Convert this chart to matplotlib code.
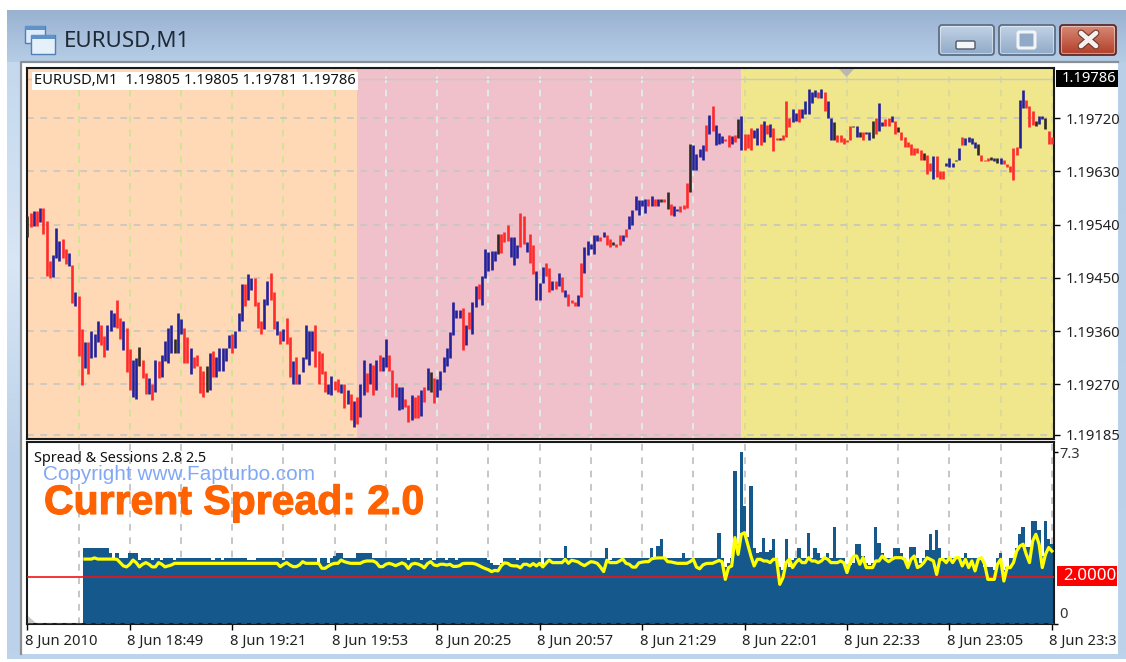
import matplotlib
matplotlib.use("Agg")
import matplotlib.pyplot as plt
import matplotlib.patheffects as pe
import numpy as np
from matplotlib.colors import to_rgb
from matplotlib.patches import FancyBboxPatch, Polygon, Rectangle
from matplotlib.transforms import ScaledTranslation

W, H = 1126, 662

# prices in points above 1.19000, one entry per M1 bar
bar_high = [
    554, 560, 563, 563, 568, 568, 546, 478, 489, 535, 513, 516, 499, 492, 471, 426, 420, 363, 341, 341,
    360, 355, 377, 371, 351, 371, 396, 390, 412, 382, 377, 366, 330, 311, 314, 333, 311, 289, 281, 271,
    311, 309, 320, 344, 366, 371, 347, 390, 380, 366, 350, 331, 317, 320, 301, 292, 301, 323, 326, 317,
    331, 331, 331, 353, 355, 361, 390, 440, 440, 456, 450, 450, 410, 377, 415, 445, 459, 426, 377, 361,
    363, 382, 350, 309, 317, 287, 317, 371, 361, 361, 371, 326, 323, 292, 271, 284, 276, 279, 271, 271,
    260, 254, 241, 249, 271, 311, 289, 306, 303, 311, 320,
    317, 347, 320, 295, 273, 265, 265, 246, 235, 252, 249, 252, 260, 265, 298, 290, 281, 279, 292, 317,
    331, 358, 410, 396, 396, 399, 371, 393, 410, 437, 440, 453, 499, 494, 496, 496, 525, 525, 527, 540,
    519, 519, 505, 560, 554, 510, 524, 505, 461, 442, 469, 475, 467, 445, 445, 459, 451, 429, 423, 412,
    410, 421, 475, 502, 513, 508, 522, 522, 520, 527, 522, 516, 510, 508, 522, 522, 532, 554, 565,
    589, 582, 581, 584, 584, 589, 584, 584, 584, 584, 595, 575, 571, 567, 571, 574, 611, 677, 674, 660,
    668, 674, 709, 726, 740, 709, 695, 690, 685,
    692, 690, 692, 719, 724, 694, 694, 703, 700, 703, 710, 716, 708, 710, 703, 686, 686, 692, 749, 721,
    735, 729, 735, 735, 749, 770, 765, 768, 765, 770, 765, 749, 721, 713, 692, 692, 686, 683, 707, 707,
    707, 697, 697, 697, 697, 716, 721, 745, 713, 718, 721, 724, 716, 705, 697, 689, 680, 677, 669, 669,
    666, 661, 658, 645, 656, 656, 631, 631, 645, 653, 645, 650, 669, 689, 686, 689, 686, 680, 677, 658,
    650, 653, 655, 653, 653, 653, 650, 642, 640, 669, 672, 751, 768, 751, 740, 732, 716, 724, 724, 721,
    699, 689,
]
bar_low = [
    519, 536, 538, 538, 544, 525, 453, 450, 452, 484, 478, 484, 473, 470, 408, 402, 318, 268, 298, 287,
    315, 317, 342, 336, 317, 328, 361, 367, 366, 347, 328, 291, 260, 249, 246, 301, 281, 253, 254, 244,
    257, 281, 282, 309, 306, 323, 323, 323, 355, 306, 306, 288, 298, 301, 255, 249, 257, 260, 282, 282,
    293, 292, 309, 331, 323, 331, 361, 377, 402, 413, 429, 402, 366, 355, 364, 404, 412, 364, 353, 338,
    344, 338, 282, 271, 271, 271, 290, 312, 303, 326, 299, 271, 288, 257, 254, 252, 260, 257, 255, 230,
    236, 209, 197, 203, 214, 252, 257, 271, 252, 260, 293,
    293, 299, 292, 249, 249, 227, 228, 231, 206, 210, 213, 213, 216, 240, 260, 257, 238, 249, 260, 290,
    301, 314, 353, 382, 382, 328, 336, 363, 355, 401, 415, 404, 450, 462, 464, 478, 491, 492, 510, 513,
    486, 472, 483, 502, 508, 494, 475, 456, 412, 412, 442, 453, 426, 429, 432, 437, 426, 418, 402, 407,
    402, 402, 418, 459, 489, 499, 491, 513, 513, 519, 505, 503, 505, 503, 505, 513, 519, 532, 540,
    564, 557, 571, 559, 572, 571, 571, 572, 579, 579, 567, 557, 555, 563, 561, 567, 568, 595, 633, 633,
    655, 650, 665, 694, 699, 674, 677, 678, 682,
    672, 677, 680, 686, 667, 667, 669, 667, 686, 675, 675, 680, 694, 689, 664, 683, 683, 683, 689, 705,
    713, 716, 713, 721, 727, 727, 745, 756, 754, 754, 732, 721, 683, 683, 680, 680, 677, 680, 683, 705,
    689, 689, 683, 694, 683, 686, 694, 699, 707, 707, 707, 713, 694, 697, 683, 672, 672, 658, 658, 661,
    650, 650, 626, 631, 618, 621, 618, 618, 640, 637, 637, 648, 650, 675, 675, 680, 677, 669, 658, 648,
    648, 648, 650, 648, 645, 642, 642, 637, 629, 615, 658, 669, 737, 737, 705, 708, 707, 710, 718, 702,
    677, 677,
]
# b = up bar, r = down bar, k = doji
bar_kind = (
    "krbrbrrrbbbrrbrbrrbrbbbrrbbbrrbrrbbkrrbrbrbbbbkbbrrbrrrrkbrbbbbbrbbbrbbrrrbbrrbrbrrbrbbbbbrrrrbbrrbrbrbrbbrbrbr"
    "bbrrrbbrrbrrbrbkrbbbbbbbbrbrbbrbbbbbkrrrbbbrrbrrbbbrrbrbrbrrrbrbbbbbrbrrkrrbrbbbbbb"
    "rbrbkrkrbbrrrkbbbbrbrbbbrrbrkbrrrbbrbrbrrbrrrbbrbbbbbrbrbbkrrrrrkbkrbbkrbbrrbrkrr"
    "rrrrrkrrbrrrbbbkbrbbbbkrrrkbkbrrrrrbbrrrkbbkrrrrrrbbbrrrbbkrrb"
)

session_start = [-0.1, 103, 223]
session_color = ["#FFD8B5", "#F0C1CA", "#F0E68C"]
session_grid = ["#C9E692", "#DDF3F0", "#D9D7A4"]
price_ticks = [720, 630, 540, 450, 360, 270, 185]
last_price = 786

spread_hist = [
    3.2, 3.2,
    3.2, 3.2, 3.2, 3.2, 3.2, 3.2, 3.0, 2.8, 3.0, 2.8,
    2.8, 2.8, 3.0, 3.0, 3.0, 2.7, 2.8, 2.8, 2.8, 2.7,
    2.8, 2.8, 2.7, 2.8, 2.8, 2.8, 2.7, 2.8, 2.8, 2.8,
    2.8, 2.8, 2.8, 2.8, 2.8, 2.8, 2.8, 2.8, 2.7, 2.8,
    2.8, 2.7, 2.8, 2.8, 2.8, 2.8, 2.8, 2.8, 2.8, 2.7,
    2.7, 2.7, 2.8, 2.8, 2.8, 2.8, 2.8, 2.8, 2.8, 2.8,
    2.7, 2.8, 2.8, 2.8, 2.8, 2.8, 2.8, 2.8, 2.8, 2.8,
    2.8, 2.5, 2.8, 2.8, 2.6, 2.8, 2.9, 3.0, 3.0, 2.8,
    2.8, 2.8, 2.8, 3.0, 3.0, 3.0, 3.0, 3.0, 2.8, 2.8,
    2.8, 2.8, 2.8, 2.8, 2.8, 2.8, 2.8, 2.8, 2.8, 2.7,
    2.8, 2.8, 2.8, 2.7, 2.8, 2.8, 2.8, 2.7, 2.8, 2.8,
    2.8, 2.7, 2.8, 2.8, 2.7, 2.8, 2.8, 2.8, 2.8, 2.8,
    2.8, 2.8, 2.8, 2.8, 2.7, 2.6, 2.5, 2.5, 2.6, 2.8,
    2.8, 2.8, 2.8, 2.7, 2.8, 2.8, 2.8, 2.8, 2.8, 2.8,
    2.8, 2.4, 2.8, 2.8, 2.8, 2.8, 2.8, 2.8, 3.3, 2.8,
    2.8, 2.8, 2.8, 2.8, 2.8, 2.8, 2.8, 2.8, 2.8, 2.8,
    2.8, 3.2, 2.7, 2.8, 2.8, 2.8, 2.7, 2.8, 2.8, 2.8,
    2.8, 2.8, 2.8, 2.8, 2.8, 3.2, 2.8, 3.3, 3.6, 2.8,
    2.8, 2.8, 2.8, 2.8, 2.8, 3.0, 2.8, 2.8, 2.8, 2.8,
    2.8, 2.8, 2.8, 2.8, 2.8, 2.8, 3.87, 2.8, 2.4, 2.6,
    2.8, 6.5, 3.4, 7.3, 5.0, 3.7, 5.85, 3.2, 3.0, 3.05,
    3.66, 3.05, 3.15, 3.6, 2.8, 2.4, 2.3, 3.6, 2.4, 2.7,
    2.8, 3.2, 2.8, 2.8, 3.87, 2.8, 3.2, 3.0, 2.8, 2.8,
    3.0, 2.8, 4.1, 2.8, 2.8, 2.8, 2.3, 2.5, 2.6, 3.4,
    3.4, 2.9, 2.6, 2.5, 2.6, 4.1, 3.45, 3.0, 2.8, 2.8,
    2.8, 3.2, 3.2, 3.0, 2.8, 2.5, 3.25, 3.25, 2.8, 2.6,
    2.8, 3.15, 3.8, 3.15, 4.0, 3.2, 2.8, 2.8, 2.8, 2.8,
    2.8, 2.8, 2.8, 3.0, 2.8, 2.8, 2.8, 2.8, 2.8, 2.4,
    2.4, 2.4, 2.3, 2.8, 3.0, 2.3, 2.4, 2.8, 2.8, 3.2,
    3.8, 4.1, 3.25, 3.25, 4.35, 4.35, 4.0, 2.9, 4.35, 3.6, 3.4,
]
spread_avg = [
    2.75, 2.75,
    2.75, 2.8, 2.75, 2.75, 2.75, 2.75, 2.75, 2.75, 2.74, 2.6,
    2.46, 2.42, 2.53, 2.71, 2.6, 2.42, 2.53, 2.6, 2.53, 2.42,
    2.42, 2.6, 2.53, 2.42, 2.46, 2.5, 2.57, 2.57, 2.57, 2.57,
    2.57, 2.57, 2.57, 2.57, 2.57, 2.57, 2.57, 2.57, 2.57, 2.57,
    2.57, 2.57, 2.57, 2.57, 2.57, 2.57, 2.57, 2.57, 2.57, 2.57,
    2.57, 2.57, 2.57, 2.57, 2.57, 2.57, 2.57, 2.57, 2.57, 2.43,
    2.53, 2.6, 2.5, 2.43, 2.43, 2.5, 2.64, 2.57, 2.57, 2.57,
    2.57, 2.57, 2.36, 2.36, 2.45, 2.53, 2.57, 2.57, 2.71, 2.64,
    2.6, 2.57, 2.57, 2.57, 2.57, 2.64, 2.67, 2.67, 2.67, 2.6,
    2.43, 2.43, 2.53, 2.57, 2.53, 2.47, 2.53, 2.59, 2.53, 2.35,
    2.53, 2.57, 2.54, 2.48, 2.38, 2.56, 2.64, 2.5, 2.47, 2.53,
    2.53, 2.5, 2.53, 2.44, 2.44, 2.47, 2.56, 2.57, 2.57, 2.57,
    2.54, 2.48, 2.41, 2.35, 2.3, 2.22, 2.27, 2.25, 2.47, 2.59,
    2.57, 2.48, 2.46, 2.46, 2.38, 2.53, 2.53, 2.46, 2.56, 2.46,
    2.57, 2.42, 2.57, 2.71, 2.6, 2.6, 2.6, 2.6, 2.74, 2.57,
    2.7, 2.67, 2.63, 2.54, 2.47, 2.56, 2.64, 2.62, 2.57, 2.41,
    2.22, 2.7, 2.6, 2.6, 2.6, 2.67, 2.75, 2.57, 2.53, 2.41,
    2.41, 2.59, 2.62, 2.64, 2.64, 2.76, 2.79, 2.8, 2.8, 2.8,
    2.64, 2.63, 2.6, 2.57, 2.57, 2.57, 2.57, 2.64, 2.74, 2.41,
    2.34, 2.5, 2.56, 2.57, 2.57, 2.63, 2.69, 2.64, 1.89, 2.39,
    2.46, 3.66, 2.95, 3.8, 3.87, 3.38, 2.88, 2.46, 2.74, 2.74,
    2.67, 2.67, 2.6, 2.74, 2.74, 1.68, 1.96, 2.6, 2.74, 2.39,
    2.6, 2.74, 2.6, 2.6, 2.81, 2.67, 2.67, 2.6, 2.67, 2.81,
    2.74, 2.6, 2.6, 2.6, 2.67, 2.6, 2.18, 2.6, 2.88, 2.88,
    2.53, 2.81, 2.39, 2.39, 2.39, 2.67, 2.67, 2.88, 2.74, 2.64,
    2.74, 2.81, 2.81, 2.81, 2.74, 2.39, 2.74, 2.88, 2.39, 2.46,
    2.6, 2.81, 2.74, 2.67, 2.1, 2.74, 2.74, 2.6, 2.81, 2.6,
    2.81, 2.81, 2.46, 2.74, 2.39, 2.67, 2.25, 2.74, 2.81, 2.53,
    1.89, 1.89, 1.89, 2.53, 2.74, 1.82, 2.39, 2.39, 2.6, 3.09,
    3.3, 3.38, 2.95, 2.6, 3.52, 3.8, 3.38, 2.39, 2.95, 3.24, 3.09,
]
spread_level = 2.0
time_labels = ["8 Jun 2010", "8 Jun 18:49", "8 Jun 19:21", "8 Jun 19:53", "8 Jun 20:25", "8 Jun 20:57",
               "8 Jun 21:29", "8 Jun 22:01", "8 Jun 22:33", "8 Jun 23:05", "8 Jun 23:3"]

KIND_COLOR = {"b": "#22229A", "r": "#FF2A2A", "k": "#2E2A24"}
UI_FONT = "Noto Sans"
UI_SIZE = 10.6


def px_axes(fig, left, top, right, bottom):
    return fig.add_axes([left / W, 1 - bottom / H, (right - left) / W, (bottom - top) / H])


def vgrad(ax, extent, stops):
    # vertical gradient between colour stops
    rows = np.linspace(0, 1, 64)
    stops_rgb = np.array([to_rgb(c) for c in stops])
    pos = np.linspace(0, 1, len(stops))
    img = np.stack([np.interp(rows, pos, stops_rgb[:, k]) for k in range(3)], axis=1)[:, None, :]
    ax.imshow(img, extent=extent, aspect="auto", interpolation="bilinear", zorder=1)


def button(ax, x0, x1, top_col, bottom_col, edge):
    vgrad(ax, [x0, x1, 55, 25], [top_col, bottom_col])
    ax.add_patch(FancyBboxPatch((x0, 25), x1 - x0, 30, boxstyle="round,pad=0,rounding_size=3",
                                fc="none", ec=edge, lw=1.3, zorder=3))
    ax.add_patch(FancyBboxPatch((x0 + 1.5, 26.5), x1 - x0 - 3, 27, boxstyle="round,pad=0,rounding_size=2",
                                fc="none", ec="#FFFFFF", alpha=0.45, lw=0.8, zorder=3))


fig = plt.figure(figsize=(W / 100, H / 100), dpi=100, facecolor="white")

# window frame behind the chart
bg = fig.add_axes([0, 0, 1, 1], zorder=0)
vgrad(bg, [7, W, 62, 10], ["#98B2D0", "#A8C0DC", "#B6CDE6"])
vgrad(bg, [7, 22, 662, 62], ["#C4D8EE", "#D8E6F5", "#BBD1E9", "#BDD3EB"])
vgrad(bg, [1118, W, 662, 62], ["#B9CFE8", "#BDD3EB"])
bg.add_patch(Rectangle((7, 654), W - 7, 5, fc="#BDD3EB", ec="none", zorder=2))
bg.add_patch(Rectangle((0, 659), W, 3, fc="white", ec="none", zorder=2))
bg.add_patch(Rectangle((21, 62), 1097, 592, fc="white", ec="none", zorder=2))
bg.plot([21, 21, 1118], [654, 61.5, 61.5], color="#8A8F96", lw=1.6, zorder=3)
button(bg, 939, 994, "#C2D3E6", "#8FA9C7", "#5C6F86")
button(bg, 999, 1055, "#C2D3E6", "#8FA9C7", "#5C6F86")
button(bg, 1060, 1116, "#D98A78", "#B03D26", "#5E2A2A")
bg.add_patch(FancyBboxPatch((956, 41), 19, 8, boxstyle="round,pad=0,rounding_size=1.5",
                            fc="#F4F6F8", ec="#4E5A68", lw=1, zorder=4))
bg.add_patch(FancyBboxPatch((1018, 32), 17, 16, boxstyle="round,pad=0,rounding_size=1.5",
                            fc="#8FA9C7", ec="#F2F4F6", lw=2.2, zorder=4))
for xs, ys in [((1081, 1096), (33, 46)), ((1081, 1096), (46, 33))]:
    bg.plot(xs, ys, color="#6B3A34", lw=5, solid_capstyle="round", zorder=4)
    bg.plot(xs, ys, color="#F6F1EE", lw=3.4, solid_capstyle="round", zorder=5)
# window icon
bg.add_patch(Rectangle((25, 26), 20, 17, fc="#DDEBFA", ec="#4F7FB4", lw=1, zorder=4))
bg.add_patch(Rectangle((25, 26), 20, 4, fc="#5E92C8", ec="none", zorder=4))
bg.add_patch(Rectangle((31, 35), 24, 19, fc="#E6F0FB", ec="#4F7FB4", lw=1, zorder=5))
bg.add_patch(Rectangle((31, 35), 24, 4, fc="#5E92C8", ec="none", zorder=5))
bg.text(64, 42, "EURUSD,M1", fontsize=16.1, family=UI_FONT, color="#1F2A38", va="center", ha="left", zorder=6)
bg.set_xlim(0, W)
bg.set_ylim(H, 0)
bg.axis("off")

# price panel
ax = px_axes(fig, 27, 68, 1053.5, 439)
ax.set_zorder(1)
x = np.arange(len(bar_high))
edges = session_start + [320.5]
x_ticks_grid = np.arange(16, 321, 16)
for k in range(3):
    ax.axvspan(edges[k], edges[k + 1], color=session_color[k], lw=0, zorder=0)
    in_session = x_ticks_grid[(x_ticks_grid >= edges[k]) & (x_ticks_grid < edges[k + 1])]
    ax.vlines(in_session, 170, 810, colors=session_grid[k], lw=1.2, linestyles=(0, (4, 4)), zorder=1)
ax.hlines(price_ticks, -0.1, 320.5, colors="#C6C6C2", lw=1.2, linestyles=(0, (4, 4)), zorder=1)
ax.axhline(last_price, color="#C8C8C8", lw=1, zorder=1)
ax.vlines(x, bar_low, bar_high, colors=[KIND_COLOR[c] for c in bar_kind], lw=1.9, zorder=3)
ax.set_xlim(-0.1, 320.5)
ax.set_ylim(177.5, 805)
ax.yaxis.tick_right()
ax.set_yticks(price_ticks)
ax.set_yticklabels([f"1.19{p:03d}" for p in price_ticks])
ax.tick_params(axis="y", length=4, width=1, pad=5, labelsize=UI_SIZE, labelfontfamily=UI_FONT, labelcolor="#222222")
ax.set_xticks([])
for s in ax.spines.values():
    s.set_linewidth(1.5)
    s.set_color("#1A1A1A")

# spread panel
ax2 = px_axes(fig, 27, 442, 1053.5, 624)
ax2.set_zorder(1)
ax2.set_facecolor("white")
ax2.vlines(x_ticks_grid, 0, 8, colors="#BDBDBD", lw=1.2, linestyles=(0, (4, 4)), zorder=1)
ax2.bar(np.arange(18, 18 + len(spread_hist)), spread_hist, width=1.0, color="#14588C", lw=0, zorder=2)
ax2.plot([0.2, 320.5], [spread_level, spread_level], color="#F01414", lw=1.2, zorder=3)
ax2.plot(np.arange(18, 18 + len(spread_avg)), spread_avg, color="#FFFF00", lw=2.3, zorder=4)
ax2.axhline(0.02, color="white", lw=1, linestyle=(0, (4, 3)), zorder=5)
ax2.set_xlim(-0.1, 320.5)
ax2.set_ylim(0, 7.71)
ax2.yaxis.tick_right()
ax2.set_yticks([7.3, 0])
ax2.set_yticklabels([])
ax2.tick_params(axis="y", length=3, width=1)
ax2.set_xticks(np.arange(0, 321, 32))
ax2.set_xticklabels(time_labels, ha="left", fontsize=UI_SIZE, family=UI_FONT, color="#222222")
ax2.tick_params(axis="x", length=4, width=1, pad=3)
shift = ScaledTranslation(-2.5 / 100, 0, fig.dpi_scale_trans)
for lab in ax2.get_xticklabels():
    lab.set_transform(lab.get_transform() + shift)
for s in ax2.spines.values():
    s.set_linewidth(1.5)
    s.set_color("#1A1A1A")

# labels drawn on top of both panels
top = fig.add_axes([0, 0, 1, 1], zorder=5)
top.patch.set_alpha(0)
top.set_xlim(0, W)
top.set_ylim(H, 0)
top.axis("off")
top.add_patch(Rectangle((32, 72), 326, 18, fc="white", ec="none"))
top.text(34, 81, "EURUSD,M1  1.19805 1.19805 1.19781 1.19786", fontsize=UI_SIZE, family=UI_FONT,
         color="#111111", va="center", ha="left")
top.add_patch(Rectangle((1056, 70), 62, 17, fc="black", ec="none"))
top.text(1116, 78.5, "1.19786", fontsize=UI_SIZE, family=UI_FONT, color="white", va="center", ha="right")
top.add_patch(Polygon([(839, 69), (854, 69), (846.5, 77)], fc="#B8B8B0", ec="none"))
top.add_patch(Polygon([(28, 616), (28, 623), (36, 623)], fc="#C8C8C8", ec="none"))
top.add_patch(Rectangle((1057, 566), 60, 20, fc="#FF0000", ec="none"))
top.text(1116, 576, "2.0000", fontsize=12.2, family=UI_FONT, color="white", va="center", ha="right")
top.text(1059, 454, "7.3", fontsize=UI_SIZE, family=UI_FONT, color="#333333", va="center", ha="left")
top.text(1059, 615, "0", fontsize=UI_SIZE, family=UI_FONT, color="#333333", va="center", ha="left")
top.text(34, 458, "Spread & Sessions 2.8 2.5", fontsize=10.4, family=UI_FONT, color="#111111", va="center", ha="left")
top.text(43, 474, "Copyright www.Fapturbo.com", fontsize=14.95, family="Liberation Sans", color="#82A8F5",
         va="center", ha="left")
top.text(44, 503, "Current Spread: 2.0", fontsize=29.5, family="Liberation Sans", fontweight="bold",
         color="#FF6200", va="center", ha="left",
         path_effects=[pe.withStroke(linewidth=0.8, foreground="#FF6200")])

fig.savefig("out.png", dpi=100)
